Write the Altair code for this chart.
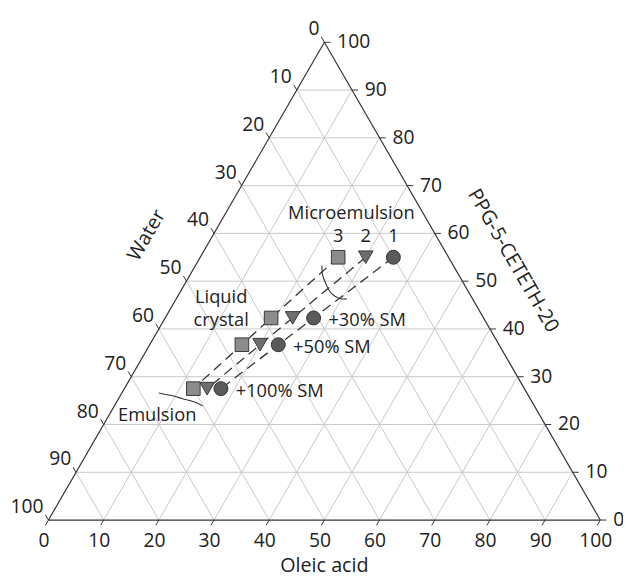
import altair as alt
import pandas as pd
import numpy as np

S = np.sqrt(3) / 2

# ---- data (ternary %, oleic acid / PPG-5-CETETH-20) ----
tick_values = [0, 10, 20, 30, 40, 50, 60, 70, 80, 90, 100]
grid_values = [10, 20, 30, 40, 50, 60, 70, 80, 90]

ppg = [55.0, 42.3, 36.7, 27.5]
oleic_s1 = [35.0, 26.9, 23.3, 17.5]   # circles
oleic_s2 = [30.0, 23.1, 20.0, 15.0]   # triangles
oleic_s3 = [25.0, 19.2, 16.7, 12.5]   # squares
series_names = ["1", "2", "3"]
sm_labels = ["", "+30% SM", "+50% SM", "+100% SM"]

micro_oleic = [22.9, 24.1, 25.6, 27.0, 28.4, 29.8, 30.9]
micro_ppg = [53.3, 51.2, 49.4, 47.9, 46.9, 46.3, 46.3]
emul_oleic = [6.7, 9.5, 11.6, 14.1, 16.0]
emul_ppg = [26.6, 26.0, 25.4, 24.7, 23.9]

# annotation anchors in plot units (x = 0..100 along base, y = height units)
region_labels = ["Microemulsion", "Liquid", "crystal", "Emulsion"]
region_x = [54.9, 31.3, 31.3, 19.7]
region_y = [55.7, 40.4, 36.2, 19.0]

axis_titles = ["Water", "PPG-5-CETETH-20", "Oleic acid"]
axis_title_x = [17.8, 84.2, 50.0]
axis_title_y = [51.6, 47.0, -8.3]
axis_title_angle = [300, 60, 0]

FONT = "Open Sans"
TXT = "#222222"


def tx(o, p):
    return o + p / 2.0


def ty(p):
    return p * S


# ---- derived tables ----
grid_rows = []
for k in grid_values:
    grid_rows.append(dict(x=k / 2, y=k * S, x2=100 - k / 2, y2=k * S))
    grid_rows.append(dict(x=k, y=0, x2=k + (100 - k) / 2, y2=(100 - k) * S))
    grid_rows.append(dict(x=100 - k, y=0, x2=(100 - k) / 2, y2=(100 - k) * S))
grid_df = pd.DataFrame(grid_rows)

edge_df = pd.DataFrame([
    dict(x=0, y=0, x2=100, y2=0),
    dict(x=100, y=0, x2=50, y2=100 * S),
    dict(x=50, y=100 * S, x2=0, y2=0),
])

L = 1.1
tick_rows, bl, ll, rl = [], [], [], []
for k in tick_values:
    tick_rows.append(dict(x=k, y=0, x2=k - 0.5 * L, y2=-S * L))
    p = 100 - k
    tick_rows.append(dict(x=p / 2, y=p * S, x2=p / 2 - 0.5 * L, y2=p * S + S * L))
    tick_rows.append(dict(x=100 - k / 2, y=k * S, x2=100 - k / 2 + L, y2=k * S))
    bl.append(dict(x=k, y=0, t=str(k)))
    ll.append(dict(x=p / 2, y=p * S, t=str(k)))
    rl.append(dict(x=100 - k / 2, y=k * S, t=str(k)))
tick_df = pd.DataFrame(tick_rows)
bl_df, ll_df, rl_df = pd.DataFrame(bl), pd.DataFrame(ll), pd.DataFrame(rl)

pts = []
for name, ol in zip(series_names, [oleic_s1, oleic_s2, oleic_s3]):
    for i, (o, p) in enumerate(zip(ol, ppg)):
        pts.append(dict(series=name, idx=i, x=tx(o, p), y=ty(p), sm=sm_labels[i]))
pts_df = pd.DataFrame(pts)

micro_df = pd.DataFrame(dict(x=[tx(o, p) for o, p in zip(micro_oleic, micro_ppg)],
                             y=[ty(p) for p in micro_ppg], idx=range(len(micro_ppg))))
emul_df = pd.DataFrame(dict(x=[tx(o, p) for o, p in zip(emul_oleic, emul_ppg)],
                            y=[ty(p) for p in emul_ppg], idx=range(len(emul_ppg))))
reg_df = pd.DataFrame(dict(x=region_x, y=region_y, t=region_labels))
title_df = pd.DataFrame(dict(x=axis_title_x, y=axis_title_y, t=axis_titles, a=axis_title_angle))

xs = alt.Scale(domain=[0, 100], nice=False, zero=False)
ys = alt.Scale(domain=[0, 100 * S], nice=False, zero=False)
X = alt.X("x:Q", scale=xs, axis=None)
Y = alt.Y("y:Q", scale=ys, axis=None)

grid = alt.Chart(grid_df).mark_rule(color="#c8c8c8", strokeWidth=1).encode(
    x=X, y=Y, x2="x2:Q", y2="y2:Q")
edges = alt.Chart(edge_df).mark_rule(color="#333333", strokeWidth=1.2).encode(
    x=X, y=Y, x2="x2:Q", y2="y2:Q")
ticks = alt.Chart(tick_df).mark_rule(color="#333333", strokeWidth=1).encode(
    x=X, y=Y, x2="x2:Q", y2="y2:Q")

bottom_lab = alt.Chart(bl_df).mark_text(font=FONT, fontSize=19.5, color=TXT, dx=-4.5, dy=21,
                                        align="center", baseline="middle").encode(x=X, y=Y, text="t:N")
left_lab = alt.Chart(ll_df).mark_text(font=FONT, fontSize=19.5, color=TXT, dx=-5, dy=-13,
                                      align="right", baseline="middle").encode(x=X, y=Y, text="t:N")
right_lab = alt.Chart(rl_df).mark_text(font=FONT, fontSize=19.5, color=TXT, dx=13, dy=0,
                                       align="left", baseline="middle").encode(x=X, y=Y, text="t:N")

dashes = alt.Chart(pts_df).mark_line(color="#333333", strokeWidth=1.3, strokeDash=[10, 6]).encode(
    x=X, y=Y, detail="series:N", order="idx:Q")

micro = alt.Chart(micro_df).mark_line(color="#333333", strokeWidth=1.1, interpolate="cardinal").encode(
    x=X, y=Y, order="idx:Q")
emul = alt.Chart(emul_df).mark_line(color="#333333", strokeWidth=1.1, interpolate="cardinal").encode(
    x=X, y=Y, order="idx:Q")

circles = alt.Chart(pts_df).transform_filter(alt.datum.series == "1").mark_point(
    shape="circle", filled=True, fill="#5a5a5a", stroke="#333333", strokeWidth=1, size=200, opacity=1
).encode(x=X, y=Y)
tris = alt.Chart(pts_df).transform_filter(alt.datum.series == "2").mark_point(
    shape="triangle-down", filled=True, fill="#6e6e6e", stroke="#3a3a3a", strokeWidth=1, size=220, opacity=1
).encode(x=X, y=Y)
squares = alt.Chart(pts_df).transform_filter(alt.datum.series == "3").mark_point(
    shape="square", filled=True, fill="#8c8c8c", stroke="#3a3a3a", strokeWidth=1, size=190, opacity=1
).encode(x=X, y=Y)

num_lab = alt.Chart(pts_df).transform_filter(alt.datum.idx == 0).mark_text(
    font=FONT, fontSize=18.5, color=TXT, dy=-21, align="center", baseline="middle"
).encode(x=X, y=Y, text="series:N")
sm_lab = alt.Chart(pts_df).transform_filter((alt.datum.series == "1") & (alt.datum.idx > 0)).mark_text(
    font=FONT, fontSize=18.5, color=TXT, dx=15, dy=2, align="left", baseline="middle"
).encode(x=X, y=Y, text="sm:N")
reg_lab = alt.Chart(reg_df).mark_text(font=FONT, fontSize=18.5, color=TXT, align="center",
                                      baseline="middle").encode(x=X, y=Y, text="t:N")
titles = alt.Chart(title_df).mark_text(font=FONT, fontSize=20, color=TXT, align="center",
                                       baseline="middle").encode(x=X, y=Y, text="t:N", angle=alt.Angle("a:Q", scale=None))

chart = alt.layer(
    grid, edges, ticks, bottom_lab, left_lab, right_lab,
    micro, emul, dashes, squares, tris, circles,
    num_lab, sm_lab, reg_lab, titles
).properties(
    width=559, height=484,
    autosize=alt.AutoSizeParams(type="none"),
    padding={"left": 41, "top": 31, "right": 23, "bottom": 56},
).configure_view(stroke=None)

chart.save("out.html", embed_options={"renderer": "svg", "actions": False})
